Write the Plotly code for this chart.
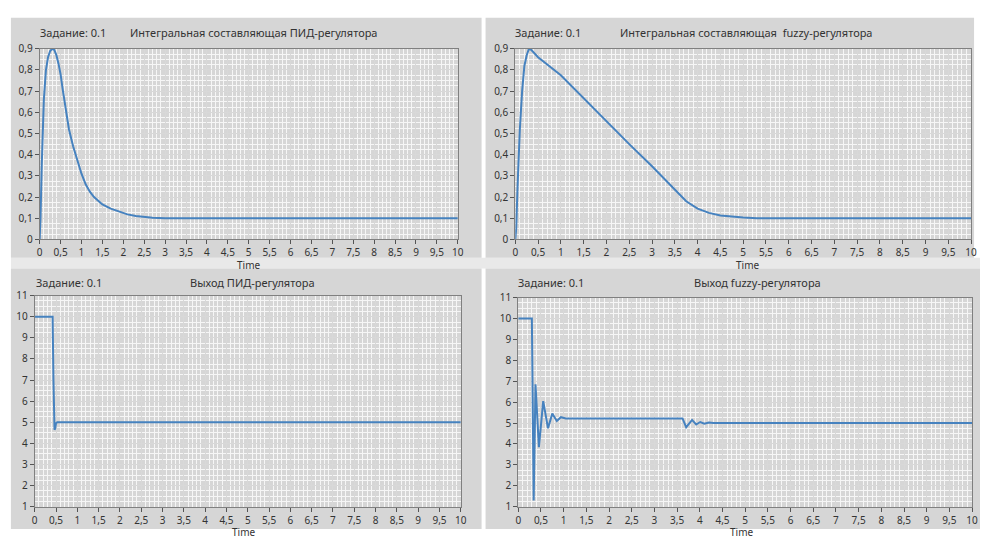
import plotly.graph_objects as go

# ---------------- data ----------------
t_pid_int = [0, 0.02, 0.05, 0.1, 0.15, 0.2, 0.25, 0.3, 0.35, 0.4, 0.45, 0.5, 0.55, 0.6, 0.65,
             0.7, 0.8, 0.9, 1.0, 1.1, 1.2, 1.3, 1.4, 1.5, 1.7, 1.9, 2.1, 2.3, 2.5, 2.7, 3.0, 10]
v_pid_int = [0, 0.1, 0.35, 0.66, 0.8, 0.86, 0.89, 0.9, 0.895, 0.87, 0.83, 0.78, 0.71, 0.64, 0.57,
             0.52, 0.44, 0.37, 0.31, 0.26, 0.225, 0.2, 0.18, 0.165, 0.145, 0.13, 0.118, 0.11, 0.105,
             0.102, 0.1, 0.1]

t_fuzzy_int = [0, 0.02, 0.05, 0.1, 0.15, 0.2, 0.25, 0.3, 0.35, 0.5, 1.0, 1.5, 2.0, 2.5, 3.0,
               3.5, 3.75, 4.0, 4.25, 4.5, 4.75, 5.0, 5.3, 10]
v_fuzzy_int = [0, 0.05, 0.25, 0.52, 0.7, 0.82, 0.87, 0.9, 0.895, 0.86, 0.775, 0.665, 0.555,
               0.45, 0.345, 0.235, 0.18, 0.145, 0.125, 0.113, 0.107, 0.103, 0.1, 0.1]

t_pid_out = [0, 0.42, 0.44, 0.45, 0.465, 0.48, 0.5, 0.53, 10]
v_pid_out = [10, 10, 7, 5.8, 4.65, 4.7, 4.95, 5, 5]

t_fuzzy_out = [0, 0.3, 0.34, 0.38, 0.455, 0.55, 0.655, 0.75, 0.85, 0.94, 1.05, 3.62, 3.7,
               3.83, 3.92, 4.01, 4.1, 4.2, 4.3, 10]
v_fuzzy_out = [10, 10, 1.3, 6.85, 3.85, 6.05, 4.75, 5.45, 5.1, 5.28, 5.22, 5.22, 4.8,
               5.15, 4.93, 5.05, 4.97, 5.03, 5.0, 5.0]

x_tickvals = [0, 0.5, 1, 1.5, 2, 2.5, 3, 3.5, 4, 4.5, 5, 5.5, 6, 6.5, 7, 7.5, 8, 8.5, 9, 9.5, 10]
x_ticktext = ["0", "0,5", "1", "1,5", "2", "2,5", "3", "3,5", "4", "4,5", "5", "5,5", "6",
              "6,5", "7", "7,5", "8", "8,5", "9", "9,5", "10"]
y_top_tickvals = [0, 0.1, 0.2, 0.3, 0.4, 0.5, 0.6, 0.7, 0.8, 0.9]
y_top_ticktext = ["0", "0,1", "0,2", "0,3", "0,4", "0,5", "0,6", "0,7", "0,8", "0,9"]
y_bot_tickvals = [1, 2, 3, 4, 5, 6, 7, 8, 9, 10, 11]
y_bot_ticktext = ["1", "2", "3", "4", "5", "6", "7", "8", "9", "10", "11"]

titles = ["Интегральная составляющая ПИД-регулятора",
          "Интегральная составляющая  fuzzy-регулятора",
          "Выход ПИД-регулятора",
          "Выход fuzzy-регулятора"]
setpoint_label = "Задание: 0.1"
x_title = "Time"

# ---------------- layout helpers ----------------
W, H = 986, 536
px = lambda x: x / W
py = lambda y: 1 - y / H

FONT = "Noto Sans"
LINE_COLOR = "#4682bf"

# plot areas in pixels: (x0, x1, ytop, ybottom)
areas = [(37, 459, 42, 238), (517, 977, 42, 238), (32, 462, 296, 513), (520, 978, 298, 513)]
series = [(t_pid_int, v_pid_int), (t_fuzzy_int, v_fuzzy_int),
          (t_pid_out, v_pid_out), (t_fuzzy_out, v_fuzzy_out)]

fig = go.Figure()
layout = dict(width=W, height=H, margin=dict(l=0, r=0, t=0, b=0),
              paper_bgcolor="#ffffff", plot_bgcolor="#fefefe", showlegend=False,
              font=dict(family=FONT, size=10, color="#333333"))

for i, ((x0, x1, yt, yb), (tx, vy)) in enumerate(zip(areas, series)):
    n = "" if i == 0 else str(i + 1)
    top = i < 2
    fig.add_trace(go.Scatter(x=tx, y=vy, mode="lines",
                             line=dict(color=LINE_COLOR, width=2),
                             xaxis="x" + n, yaxis="y" + n, hoverinfo="skip"))
    layout["xaxis" + n] = dict(
        domain=[px(x0), px(x1)], anchor="y" + n, range=[0, 10],
        tickmode="array", tickvals=x_tickvals, ticktext=x_ticktext,
        ticks="outside", ticklen=4, tickcolor="#555555", tickfont=dict(size=10, color="#333"),
        showline=True, linecolor="#808080", mirror=True,
        showgrid=True, gridcolor="#d8d8d8", gridwidth=1,
        minor=dict(dtick=0.1, showgrid=True, gridcolor="#f6f6f6", gridwidth=1),
        zeroline=False, fixedrange=True)
    if top:
        yd = dict(range=[0, 0.9], tickvals=y_top_tickvals, ticktext=y_top_ticktext,
                  minor=dict(dtick=0.025, showgrid=True, gridcolor="#f6f6f6", gridwidth=1))
    else:
        yd = dict(range=[1, 11], tickvals=y_bot_tickvals, ticktext=y_bot_ticktext,
                  minor=dict(dtick=0.25, showgrid=True, gridcolor="#f6f6f6", gridwidth=1))
    layout["yaxis" + n] = dict(
        domain=[py(yb), py(yt)], anchor="x" + n, tickmode="array",
        ticks="outside", ticklen=4, tickcolor="#555555", tickfont=dict(size=10, color="#333"),
        showline=True, linecolor="#808080", mirror=True,
        showgrid=True, gridcolor="#d8d8d8", gridwidth=1,
        zeroline=False, fixedrange=True, **yd)

# panel backgrounds
panels = [(8, 483, 10, 257), (487, 980, 10, 257), (8, 483, 268, 536), (487, 986, 268, 536)]
shapes = []
shapes.append(dict(type="rect", xref="paper", yref="paper", x0=px(8), x1=1, y0=py(268), y1=py(257),
                   fillcolor="#e9e9e9", line=dict(width=0), layer="below"))
for (a, b, c, d) in panels:
    shapes.append(dict(type="rect", xref="paper", yref="paper", x0=px(a), x1=px(b),
                       y0=py(d), y1=py(c), fillcolor="#d6d6d6", line=dict(width=0),
                       layer="below"))
layout["shapes"] = shapes

# texts
ann = []
setpoint_pos = [(35, 25), (515, 25), (31, 282), (518, 282)]
title_pos = [(253, 25), (750, 25), (252, 282), (761, 282)]
for i in range(4):
    ann.append(dict(text=setpoint_label, x=px(setpoint_pos[i][0]), y=py(setpoint_pos[i][1]),
                    xref="paper", yref="paper", xanchor="left", yanchor="middle",
                    showarrow=False, font=dict(size=11, color="#333")))
    ann.append(dict(text=titles[i], x=px(title_pos[i][0]), y=py(title_pos[i][1]),
                    xref="paper", yref="paper", xanchor="center", yanchor="middle",
                    showarrow=False, font=dict(size=11, color="#333")))
time_pos = [(248, 264, "middle"), (751, 264, "middle"), (243, 530, "top"), (745, 530, "top")]
for (x, y, anc) in time_pos:
    ann.append(dict(text=x_title, x=px(x), y=py(y), xref="paper", yref="paper",
                    xanchor="center", yanchor=anc, showarrow=False,
                    font=dict(size=10, color="#333")))
layout["annotations"] = ann

fig.update_layout(**layout)
fig.write_html("out.html", config={"displayModeBar": False},
               post_script="document.body.style.margin='0';document.body.style.overflow='hidden';")
